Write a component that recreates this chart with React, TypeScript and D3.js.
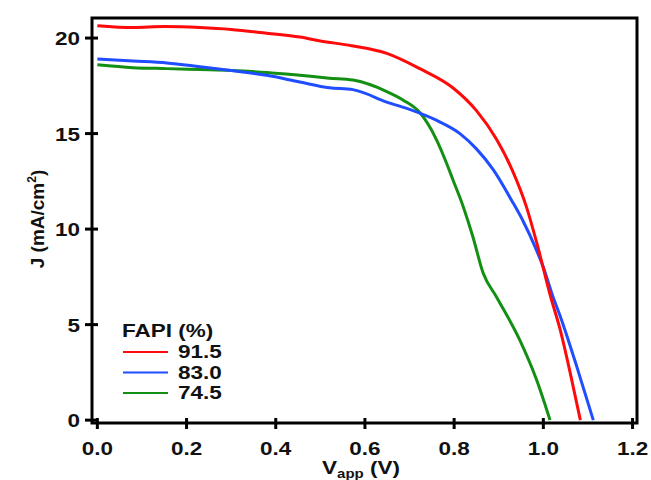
import * as d3 from "d3";

// V (V) and J (mA/cm2)
const red915V = [0, 0.08, 0.15, 0.23, 0.3, 0.38, 0.454, 0.5, 0.57, 0.649, 0.723, 0.797, 0.85, 0.895, 0.93, 0.963, 0.985, 1.017, 1.037, 1.06, 1.083];
const red915J = [20.65, 20.55, 20.6, 20.55, 20.45, 20.25, 20.05, 19.85, 19.6, 19.2, 18.4, 17.4, 16.2, 14.7, 13.1, 11.1, 9.3, 6.4, 4.8, 2.5, 0];

const blue830V = [0, 0.08, 0.156, 0.23, 0.3, 0.38, 0.454, 0.52, 0.573, 0.649, 0.708, 0.76, 0.813, 0.85, 0.888, 0.929, 0.955, 0.981, 1.0, 1.021, 1.04, 1.075, 1.112];
const blue830J = [18.9, 18.8, 18.7, 18.5, 18.3, 18.05, 17.7, 17.4, 17.3, 16.65, 16.2, 15.7, 15.0, 14.2, 13.1, 11.5, 10.4, 9.1, 8.0, 6.5, 5.3, 2.8, 0];

const green745V = [0, 0.08, 0.156, 0.23, 0.3, 0.38, 0.454, 0.52, 0.573, 0.649, 0.686, 0.723, 0.76, 0.783, 0.797, 0.82, 0.842, 0.865, 0.895, 0.947, 0.985, 1.015];
const green745J = [18.6, 18.45, 18.4, 18.35, 18.3, 18.2, 18.05, 17.9, 17.8, 17.2, 16.75, 16.1, 14.7, 13.45, 12.6, 11.2, 9.6, 7.7, 6.45, 4.2, 2.1, 0];

const seriesNames = ["91.5", "83.0", "74.5"];
const seriesColors = ["#ff0a0a", "#1f4dff", "#138f13"];
const xTicks = [0, 0.2, 0.4, 0.6, 0.8, 1.0, 1.2];
const yTicks = [0, 5, 10, 15, 20];

const W = 651;
const H = 480;
const font = "Arial, 'Liberation Sans', sans-serif";

// the reference text looks horizontally stretched
function Label({ x, y, anchor = "start", size = 18, children }: any) {
  return (
    <text
      transform={`translate(${x},${y}) scale(1.25,1)`}
      textAnchor={anchor}
      fontFamily={font}
      fontWeight="bold"
      fontSize={size}
      fill="#111"
    >
      {children}
    </text>
  );
}

export default function App() {
  const x = d3.scaleLinear().domain([-0.012, 1.21]).range([92, 637]);
  const y = d3.scaleLinear().domain([-0.15, 21.05]).range([423, 18]);

  const series = [
    { V: red915V, J: red915J },
    { V: blue830V, J: blue830J },
    { V: green745V, J: green745J },
  ];

  const line = d3
    .line<[number, number]>()
    .x((d) => x(d[0]))
    .y((d) => y(d[1]))
    .curve(d3.curveMonotoneX);

  const [x0, x1] = x.range();
  const [yb, yt] = y.range();

  return (
    <svg width={W} height={H} style={{ position: "absolute", left: 0, top: 0, background: "#fff" }}>
      {[2, 1, 0].map((i) => (
        <path
          key={i}
          d={line(series[i].V.map((v, k) => [v, series[i].J[k]] as [number, number])) || ""}
          fill="none"
          stroke={seriesColors[i]}
          strokeWidth={3}
          strokeLinejoin="round"
        />
      ))}

      {/* frame */}
      <rect x={x0} y={yt} width={x1 - x0} height={yb - yt} fill="none" stroke="#000" strokeWidth={3} />

      {/* x ticks */}
      {xTicks.map((t) => (
        <g key={"x" + t}>
          <line x1={x(t)} x2={x(t)} y1={yb - 5} y2={yb + 6} stroke="#000" strokeWidth={3} />
          <Label x={x(t)} y={yb + 32} anchor="middle">
            {t.toFixed(1)}
          </Label>
        </g>
      ))}

      {/* y ticks */}
      {yTicks.map((t) => (
        <g key={"y" + t}>
          <line x1={x0 - 7} x2={x0 + 6} y1={y(t)} y2={y(t)} stroke="#000" strokeWidth={3} />
          <Label x={x0 - 12} y={y(t) + 7} anchor="end">
            {t}
          </Label>
        </g>
      ))}

      {/* axis titles */}
      <text
        transform={`translate(44, 219) rotate(-90)`}
        textAnchor="middle"
        fontFamily={font}
        fontWeight="bold"
        fontSize={19}
        fill="#111"
      >
        J (mA/cm<tspan dy={-8} fontSize={12}>2</tspan>
        <tspan dy={8}>)</tspan>
      </text>
      <Label x={361} y={474} anchor="middle">
        V<tspan dy={4} fontSize={12}>app</tspan>
        <tspan dy={-4}> (V)</tspan>
      </Label>

      {/* legend */}
      <Label x={122} y={337}>FAPI (%)</Label>
      {seriesNames.map((n, i) => (
        <g key={n}>
          <line x1={123} x2={168} y1={352 + i * 20.5} y2={352 + i * 20.5} stroke={seriesColors[i]} strokeWidth={2} />
          <Label x={178} y={358 + i * 20.5}>{n}</Label>
        </g>
      ))}
    </svg>
  );
}
